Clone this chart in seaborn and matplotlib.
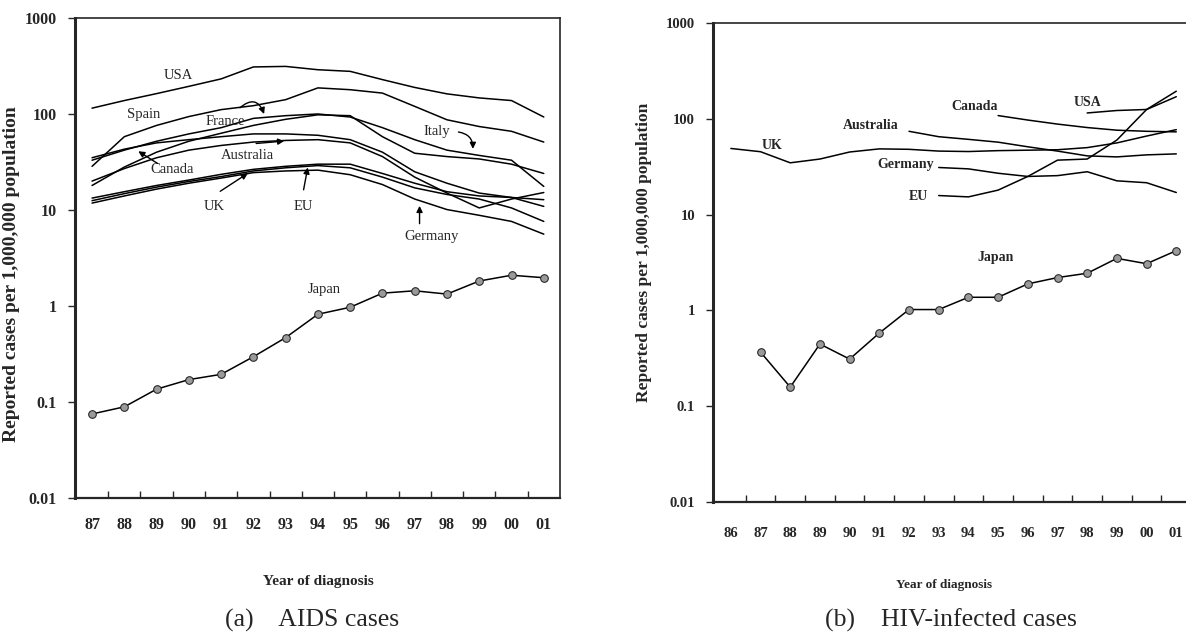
import matplotlib
matplotlib.use("Agg")
import matplotlib.pyplot as plt
from matplotlib.ticker import NullLocator
import seaborn as sns

sns.set_style("ticks")
plt.rcParams["font.family"] = ["Liberation Serif", "DejaVu Serif"]
plt.rcParams["axes.linewidth"] = 1.2

# (a) AIDS cases per 1,000,000 population, 1987-2001 (00 = 100, 01 = 101)
aids_years = list(range(87, 102))
aids_usa = [115, 138, 163, 194, 232, 309, 313, 289, 278, 228, 189, 162, 147, 138, 93]
aids_spain = [28.5, 58, 76, 94, 111, 122, 141, 187, 179, 165, 120, 87, 74, 66, 51]
aids_france = [33, 42, 52, 62, 72, 90, 96, 100, 93, 72, 54, 42, 37, 33, 17.6]
aids_italy = [18, 28, 40, 52, 63, 76, 88, 98, 96, 58, 39, 36, 34, 30, 24]
aids_canada = [35, 43, 50, 54, 58, 62, 62, 60, 54, 40, 25, 19, 15, 13.5, 10.9]
aids_australia = [20, 27, 35, 42, 47, 51, 53, 54, 50, 36, 22, 15, 10.5, 13, 15.2]
aids_uk = [12.5, 14.8, 17.3, 19.8, 22.3, 25.5, 27.5, 29, 27.5, 22, 17, 14.5, 13, 10.5, 7.6]
aids_eu = [13.3, 15.5, 18, 20.5, 23.5, 26.5, 28.5, 30, 30, 24, 19, 15.5, 14, 13.5, 12.8]
aids_germany = [11.8, 14, 16.5, 19, 21.5, 24.5, 25.5, 26, 23.3, 18.4, 13, 10.1, 8.8, 7.6, 5.6]
aids_japan = [0.075, 0.089, 0.136, 0.171, 0.194, 0.296, 0.468, 0.82, 0.97,
              1.36, 1.44, 1.33, 1.82, 2.09, 1.97]

# (b) HIV-infected cases per 1,000,000 population
hiv_uk_years = list(range(86, 102))
hiv_uk = [49, 45.3, 34.7, 38, 45, 48.5, 48, 46, 45.5, 46.5, 47, 47.5, 50, 56, 66, 77]
hiv_australia_years = list(range(92, 102))
hiv_australia = [74, 65, 61, 57, 51, 46, 41, 40, 42, 43]
hiv_germany_years = list(range(93, 102))
hiv_germany = [31, 30, 27, 25, 25.5, 28, 22.5, 21.5, 17]
hiv_eu_years = list(range(93, 102))
hiv_eu = [15.8, 15.3, 18, 25, 37, 38, 60, 125, 194]
hiv_canada_years = list(range(95, 102))
hiv_canada = [108, 97, 88, 81, 76, 74, 73]
hiv_usa_years = list(range(98, 102))
hiv_usa = [115, 122, 125, 170]
hiv_japan_years = list(range(87, 102))
hiv_japan = [0.367, 0.158, 0.445, 0.31, 0.58, 1.02, 1.02, 1.37, 1.37,
             1.89, 2.2, 2.44, 3.49, 3.07, 4.2]

aids_labels = ["87", "88", "89", "90", "91", "92", "93", "94", "95", "96",
               "97", "98", "99", "00", "01"]
hiv_labels = ["86"] + aids_labels
y_ticks = [0.01, 0.1, 1, 10, 100, 1000]
y_ticklabels = ["0.01", "0.1", "1", "10", "100", "1000"]

fig = plt.figure(figsize=(11.86, 6.33), dpi=100)
ax1 = fig.add_axes([0.0632, 0.2133, 0.4089, 0.7583])
ax2 = fig.add_axes([0.6012, 0.2070, 0.4144, 0.7567])

line_kw = dict(color="black", linewidth=1.1)
jp_kw = dict(color="black", linewidth=1.1, marker="o", markersize=5.5,
             markerfacecolor="#9a9a9a", markeredgecolor="#222222")

# --- (a) AIDS
for vals in [aids_usa, aids_spain, aids_france, aids_italy, aids_canada,
             aids_australia, aids_uk, aids_eu, aids_germany]:
    sns.lineplot(x=aids_years, y=vals, ax=ax1, **line_kw)
sns.lineplot(x=aids_years, y=aids_japan, ax=ax1, **jp_kw)

# --- (b) HIV
for yrs, vals in [(hiv_uk_years, hiv_uk), (hiv_australia_years, hiv_australia),
                  (hiv_germany_years, hiv_germany), (hiv_eu_years, hiv_eu),
                  (hiv_canada_years, hiv_canada), (hiv_usa_years, hiv_usa)]:
    sns.lineplot(x=yrs, y=vals, ax=ax2, **line_kw)
sns.lineplot(x=hiv_japan_years, y=hiv_japan, ax=ax2, **jp_kw)


def style_axis(ax, years, labels, xlim, tick_fs, pad_x):
    ax.set_yscale("log")
    ax.set_ylim(0.01, 1000)
    ax.set_xlim(*xlim)
    ax.set_yticks(y_ticks)
    ax.set_yticklabels(y_ticklabels, fontsize=tick_fs, fontweight="bold")
    ax.yaxis.set_minor_locator(NullLocator())
    ax.set_xticks(years)
    ax.set_xticklabels(labels, fontsize=tick_fs, fontweight="bold")
    ax.set_xticks([y + 0.5 for y in years[:-1]], minor=True)
    ax.tick_params(axis="x", which="major", length=0, pad=pad_x)
    ax.tick_params(axis="x", which="minor", direction="in", length=5, width=1)
    ax.tick_params(axis="y", which="major", direction="out", length=5, width=1, pad=8)
    ax.spines["left"].set_linewidth(2.2)
    ax.spines["bottom"].set_linewidth(1.6)
    for sp in ax.spines.values():
        sp.set_visible(True)


style_axis(ax1, aids_years, aids_labels, (86.47, 101.5), 11.5, 14)
style_axis(ax2, hiv_uk_years, hiv_labels, (85.4, 101.95), 10.5, 18)

ax1.set_ylabel("Reported cases per 1,000,000 population", fontsize=14, fontweight="bold")
ax1.yaxis.set_label_coords(-0.113, 0.467)
ax1.set_xlabel("Year of diagnosis", fontsize=11, fontweight="bold")
ax1.xaxis.set_label_coords(0.501, -0.16)

ax2.set_ylabel("Reported cases per 1,000,000 population", fontsize=12.5, fontweight="bold")
ax2.yaxis.set_label_coords(-0.125, 0.522)
ax2.set_xlabel("Year of diagnosis", fontsize=9.5, fontweight="bold")
ax2.xaxis.set_label_coords(0.47, -0.16)

# country labels, panel (a)
lab_fs = 10.5
for txt, x, y in [("USA", 89.67, 254), ("Spain", 88.59, 98), ("France", 91.12, 83.7),
                  ("Italy", 97.67, 65.9), ("Canada", 89.47, 26.3),
                  ("Australia", 91.8, 36.7), ("UK", 90.8, 10.9), ("EU", 93.54, 10.9),
                  ("Germany", 97.52, 5.3), ("Japan", 94.21, 1.48)]:
    ax1.text(x, y, txt, fontsize=lab_fs, ha="center", va="center")

arrow = dict(arrowstyle="-|>", color="black", lw=1.0, mutation_scale=9)
ax1.annotate("", xy=(92.36, 93.7), xytext=(91.52, 111),
             arrowprops=dict(arrow, connectionstyle="arc3,rad=-0.8"))
ax1.annotate("", xy=(98.8, 40.5), xytext=(98.27, 65.4),
             arrowprops=dict(arrow, connectionstyle="arc3,rad=-0.5"))
ax1.annotate("", xy=(88.36, 42.4), xytext=(89.1, 29.5), arrowprops=arrow)
ax1.annotate("", xy=(93.04, 52.5), xytext=(92.0, 49), arrowprops=arrow)
ax1.annotate("", xy=(91.9, 25), xytext=(90.9, 15.1), arrowprops=arrow)
ax1.annotate("", xy=(93.7, 29.6), xytext=(93.54, 15.2), arrowprops=arrow)
ax1.annotate("", xy=(97.15, 11.8), xytext=(97.15, 6.74), arrowprops=arrow)

# country labels, panel (b)
for txt, x, y in [("UK", 87.4, 53), ("Australia", 90.7, 85), ("Canada", 94.2, 135),
                  ("USA", 98.0, 147), ("Germany", 91.9, 33.3), ("EU", 92.3, 15.4),
                  ("Japan", 94.9, 3.54)]:
    ax2.text(x, y, txt, fontsize=10, fontweight="bold", ha="center", va="center")

fig.text(312 / 1186, 1 - 620 / 633, "(a)    AIDS cases", fontsize=18.5,
         ha="center", va="center")
fig.text(951 / 1186, 1 - 620 / 633, "(b)    HIV-infected cases", fontsize=18.5,
         ha="center", va="center")

fig.savefig("out.png", dpi=100)
